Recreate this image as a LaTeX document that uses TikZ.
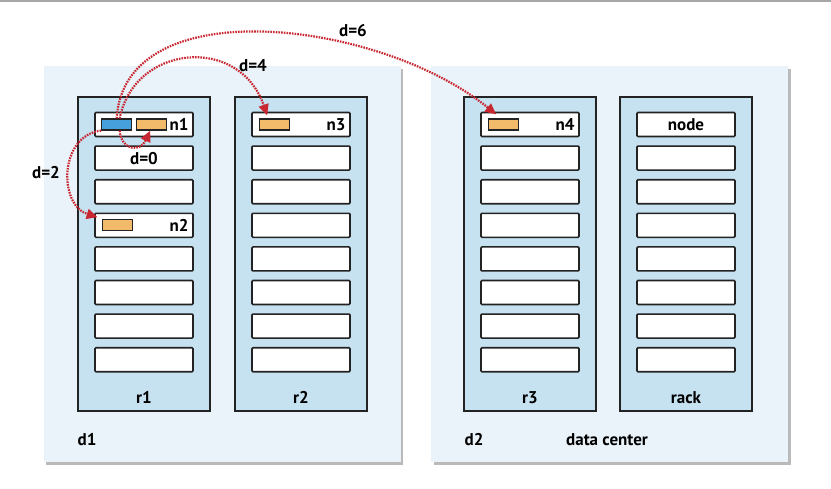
\documentclass[tikz,border=0pt]{standalone}
\usepackage{fontspec}
\setmainfont{PT Sans}
\usetikzlibrary{arrows.meta,positioning,shadows}
\definecolor{dcfill}{RGB}{234,243,249}
\definecolor{rackfill}{RGB}{198,225,240}
\definecolor{blkblue}{RGB}{70,160,220}
\definecolor{reporange}{RGB}{242,187,108}
\definecolor{distred}{RGB}{200,38,48}
\definecolor{edgegray}{RGB}{35,35,35}
\tikzset{
  dcbox/.style={fill=dcfill, minimum width=357pt, minimum height=396pt, inner sep=0pt,
    drop shadow={shadow xshift=2.5pt, shadow yshift=-3pt, fill=black!45, opacity=0.6}},
  rackbox/.style={draw=edgegray, line width=1.2pt, fill=rackfill, minimum width=132pt,
    minimum height=314pt, inner sep=0pt},
  slot/.style={draw=edgegray, line width=1.6pt, fill=white, rounded corners=1pt,
    minimum width=98pt, minimum height=24pt, inner sep=0pt},
  blk/.style={draw=edgegray, line width=1.2pt, fill=blkblue, minimum width=30pt,
    minimum height=11pt, inner sep=0pt},
  rep/.style={blk, fill=reporange},
  lbl/.style={font=\fontsize{17}{20}\selectfont\bfseries, inner sep=0pt},
  distarr/.style={-{Triangle[length=11pt,width=10pt]}, draw=distred, line width=2.2pt,
    dash pattern=on 1.6pt off 1.1pt}
}
\begin{document}
\begin{tikzpicture}[x=1pt, y=-1pt]
\useasboundingbox (0,0) rectangle (831,488);
\draw[black!35, line width=2pt] (0,1) -- (831,1);
% data centers
\node[dcbox] (d1) at (222,264) {};
\node[dcbox] (d2) at (609.5,264) {};
% racks
\node[rackbox] (r1) at (144,254) {};
\node[rackbox] (r2) at (301,254) {};
\node[rackbox] (r3) at (530,254) {};
\node[rackbox] (rack) at (686,254) {};
\foreach \r/\x in {r1/144, r2/301, r3/530, rack/686}
  \foreach \i in {1,...,8}
    \node[slot] (\r s\i) at (\x, {124.5+33.6*(\i-1)}) {};
% labels
\node[lbl, anchor=east] (n1) at ([xshift=-5pt]r1s1.east) {n1};
\node[lbl, anchor=east] (n2) at ([xshift=-5pt]r1s4.east) {n2};
\node[lbl, anchor=east] (n3) at ([xshift=-5pt]r2s1.east) {n3};
\node[lbl, anchor=east] (n4) at ([xshift=-5pt]r3s1.east) {n4};
\node[lbl] (nodelbl) at (racks1) {node};
\node[lbl] (d0lbl) at (r1s2) {d=0};
\node[lbl] (r1lbl) at ([yshift=14pt]r1.south) {r1};
\node[lbl] (r2lbl) at ([yshift=14pt]r2.south) {r2};
\node[lbl] (r3lbl) at ([yshift=14pt]r3.south) {r3};
\node[lbl] (racklbl) at ([yshift=14pt]rack.south) {rack};
\node[lbl] (d1lbl) at (87,440) {d1};
\node[lbl] (d2lbl) at (474,440) {d2};
\node[lbl] (dclbl) at (607,440) {data center};
% blocks
\node[blk] (blk) at ([xshift=22.5pt]r1s1.west) {};
\node[rep] (rep1) at ([xshift=57pt]r1s1.west) {};
\node[rep] (rep2) at ([xshift=23pt]r1s4.west) {};
\node[rep] (rep3) at ([xshift=23pt]r2s1.west) {};
\node[rep] (rep4) at ([xshift=23pt]r3s1.west) {};
% distances
\draw[distarr] ([xshift=3pt]blk.south) .. controls +(1.5,20) and +(-10,22) .. ([xshift=-1pt]rep1.south);
\draw[distarr] (blk.south west) .. controls +(-42.5,5) and +(-39,-12) .. ([xshift=-4pt,yshift=2pt]rep2.north west);
\draw[distarr] ([xshift=3pt]blk.north) .. controls +(14.5,-74) and +(-28,-81) .. ([xshift=-7pt,yshift=3pt]rep3.north);
\draw[distarr] (blk.north) .. controls +(7.5,-129) and +(-117,-95) .. ([xshift=-7pt,yshift=4pt]rep4.north);
\node[lbl] (d2dist) at (46,173) {d=2};
\node[lbl] (d4dist) at (253,66) {d=4};
\node[lbl] (d6dist) at (353,31) {d=6};
\end{tikzpicture}
\end{document}
